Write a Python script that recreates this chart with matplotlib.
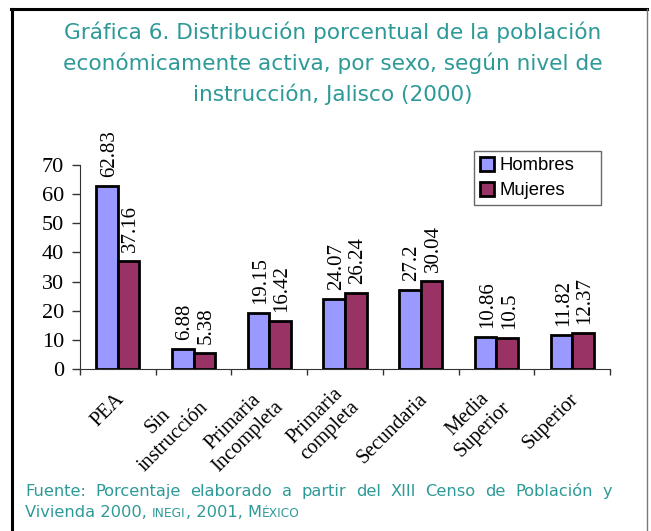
import matplotlib
matplotlib.use("Agg")
import matplotlib.pyplot as plt
import matplotlib.transforms as mtransforms
from matplotlib.lines import Line2D
import numpy as np

categorias = ["PEA", "Sin\ninstrucción", "Primaria\nIncompleta", "Primaria\ncompleta",
              "Secundaria", "Media\nSuperior", "Superior"]
hombres = [62.83, 6.88, 19.15, 24.07, 27.2, 10.86, 11.82]
mujeres = [37.16, 5.38, 16.42, 26.24, 30.04, 10.5, 12.37]
etiq_h = ["62.83", "6.88", "19.15", "24.07", "27.2", "10.86", "11.82"]
etiq_m = ["37.16", "5.38", "16.42", "26.24", "30.04", "10.5", "12.37"]
titulo = ["Gráfica 6. Distribución porcentual de la población",
          "económicamente activa, por sexo, según nivel de",
          "instrucción, Jalisco (2000)"]
fuente1 = "Fuente: Porcentaje elaborado a partir del XIII Censo de Población y"

teal = "#2e9a98"
serif = "Liberation Serif"
sans = "DejaVu Sans"
W, H = 651, 531

fig = plt.figure(figsize=(W / 100, H / 100), dpi=100)
ax = fig.add_axes([80 / W, 1 - 369 / H, 530 / W, 204 / H])

x = np.arange(len(categorias))
w = 0.284
ax.bar(x - w / 2, hombres, w, color="#9999ff", edgecolor="black", linewidth=2.0,
       label="Hombres")
ax.bar(x + w / 2, mujeres, w, color="#993366", edgecolor="black", linewidth=2.0,
       label="Mujeres")

for xs, vals, txt in [(x - w / 2, hombres, etiq_h), (x + w / 2, mujeres, etiq_m)]:
    for xi, v, t in zip(xs, vals, txt):
        ax.annotate(t, (xi, v), xytext=(1.5, 6.5), textcoords="offset points",
                    rotation=90, ha="center", va="bottom", fontsize=15,
                    family=serif, annotation_clip=False)

ax.set_xlim(-0.5, len(categorias) - 0.5)
ax.set_ylim(0, 70)
ax.set_yticks(range(0, 71, 10))
ax.tick_params(axis="y", direction="out", length=5.5, width=1, labelsize=16, pad=6,
               color="#333333")
for lb in ax.get_yticklabels():
    lb.set_family(serif)

ax.set_xticks(np.arange(-0.5, len(categorias)), minor=True)
ax.set_xticks(x)
ax.set_xticklabels(categorias, rotation=45, ha="right", va="center",
                   rotation_mode="anchor", multialignment="center",
                   family=serif, fontsize=14.8)
ax.tick_params(axis="x", which="major", length=0, pad=20)
ax.tick_params(axis="x", which="minor", direction="out", length=4.5, width=1,
               color="#333333")
desp = mtransforms.ScaledTranslation(4 / 100, 0, fig.dpi_scale_trans)
for lb in ax.get_xticklabels():
    lb.set_transform(lb.get_transform() + desp)

for s in ["top", "right"]:
    ax.spines[s].set_visible(False)
ax.spines["left"].set_color("#333333")
ax.spines["bottom"].set_color("#333333")

leg = ax.legend(loc="upper left", mode="expand",
                bbox_to_anchor=(394 / 530, 160 / 204, 127 / 530, 58 / 204),
                frameon=True, fancybox=False,
                prop={"family": "Liberation Sans", "size": 13.3},
                handlelength=0.76, handleheight=0.76, handletextpad=0.3,
                borderpad=0.32, labelspacing=0.42, borderaxespad=0)
leg.get_frame().set_edgecolor("#444444")
leg.get_frame().set_linewidth(1.0)

for linea, yb in zip(titulo, [39, 70, 101]):
    fig.text(333 / W, 1 - yb / H, linea, ha="center", va="baseline", color=teal,
             fontsize=15.6, family=sans)

# pie de pagina, primera linea justificada
r = fig.canvas.get_renderer()
palabras = [fig.text(0, 1 - 496 / H, p, ha="left", va="baseline", color=teal,
                     fontsize=11.7, family=sans) for p in fuente1.split()]
anchos = [t.get_window_extent(r).width for t in palabras]
x0, x1 = 25, 612
hueco = (x1 - x0 - sum(anchos)) / (len(palabras) - 1)
pos = x0
for t, a in zip(palabras, anchos):
    t.set_x(pos / W)
    pos += a + hueco

t1 = fig.text(x0 / W, 1 - 517 / H, "Vivienda 2000, ", ha="left", va="baseline",
              color=teal, fontsize=11.7, family=sans)
t2 = ax.annotate("INEGI", xy=(1, 0), xycoords=t1, ha="left", va="bottom", color=teal,
                 fontsize=8.8, family=sans)
t3 = ax.annotate(", 2001, M", xy=(1, 0), xycoords=t2, ha="left", va="bottom",
                 color=teal, fontsize=11.7, family=sans)
ax.annotate("ÉXICO", xy=(1, 0), xycoords=t3, ha="left", va="bottom", color=teal,
            fontsize=8.8, family=sans)

fig.add_artist(Line2D([12 / W, 12 / W], [0, 1 - 9 / H], color="black", linewidth=2.2))
fig.add_artist(Line2D([11 / W, 647 / W], [1 - 9 / H, 1 - 9 / H], color="black",
                      linewidth=2.2))
fig.add_artist(Line2D([647 / W, 647 / W], [1 - 9 / H, 0], color="#777777",
                      linewidth=1.0))

fig.savefig("out.png", dpi=100)
